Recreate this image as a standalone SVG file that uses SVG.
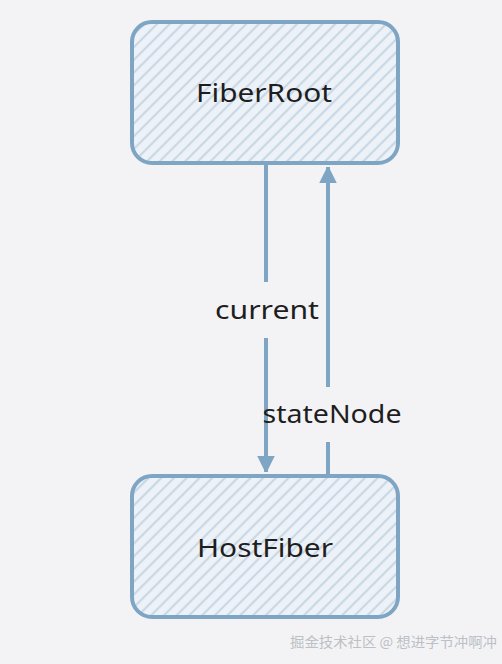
<svg xmlns="http://www.w3.org/2000/svg" width="502" height="664" viewBox="0 0 502 664">
  <defs>
    <pattern id="hatch" patternUnits="userSpaceOnUse" width="9" height="9" patternTransform="rotate(45)">
      <rect width="9" height="9" fill="#edf2f8"/>
      <line x1="2" y1="0" x2="2" y2="9" stroke="#c9d8e5" stroke-width="2.2"/>
    </pattern>
    <marker id="arrow" viewBox="0 0 16 20" refX="16" refY="10" markerWidth="16" markerHeight="20" markerUnits="userSpaceOnUse" orient="auto">
      <path d="M0,2 L16,10 L0,18 Z" fill="#7fa5c5" stroke="#7fa5c5" stroke-width="1.5" stroke-linejoin="round"/>
    </marker>
    <style>
      .box { fill: url(#hatch); stroke: #7fa5c5; stroke-width: 4; }
      .label { font-family: "Noto Sans", "Liberation Sans", sans-serif; font-size: 26px; fill: #1e1e1e; }
      .conn { stroke: #7fa5c5; stroke-width: 4; fill: none; stroke-linecap: butt; }
      .wm { font-family: "Noto Sans CJK SC", "Noto Sans", sans-serif; font-size: 14px; fill: #bcbfc4; }
    </style>
  </defs>
  <rect width="502" height="664" fill="#f3f3f6"/>

  <g id="FiberRoot">
    <rect class="box" x="132" y="22" width="266" height="141" rx="20" ry="20"/>
    <text class="label" x="264" y="102" text-anchor="middle" textLength="136" lengthAdjust="spacingAndGlyphs">FiberRoot</text>
  </g>

  <g id="HostFiber">
    <rect class="box" x="132" y="476" width="266" height="141" rx="20" ry="20"/>
    <text class="label" x="265" y="557" text-anchor="middle" textLength="136" lengthAdjust="spacingAndGlyphs">HostFiber</text>
  </g>

  <g id="connectors">
    <g id="current">
      <line class="conn" x1="266" y1="165" x2="266" y2="282"/>
      <line class="conn" x1="266" y1="338" x2="266" y2="472" marker-end="url(#arrow)"/>
      <text class="label" x="267" y="319" text-anchor="middle" textLength="104" lengthAdjust="spacingAndGlyphs">current</text>
    </g>
    <g id="stateNode">
      <line class="conn" x1="328" y1="476" x2="328" y2="442"/>
      <line class="conn" x1="328" y1="387" x2="328" y2="167" marker-end="url(#arrow)"/>
      <text class="label" x="332" y="423" text-anchor="middle" textLength="139" lengthAdjust="spacingAndGlyphs">stateNode</text>
    </g>
  </g>

  <text class="wm" x="290" y="647" textLength="207" lengthAdjust="spacingAndGlyphs">掘金技术社区 @ 想进字节冲啊冲</text>
</svg>
